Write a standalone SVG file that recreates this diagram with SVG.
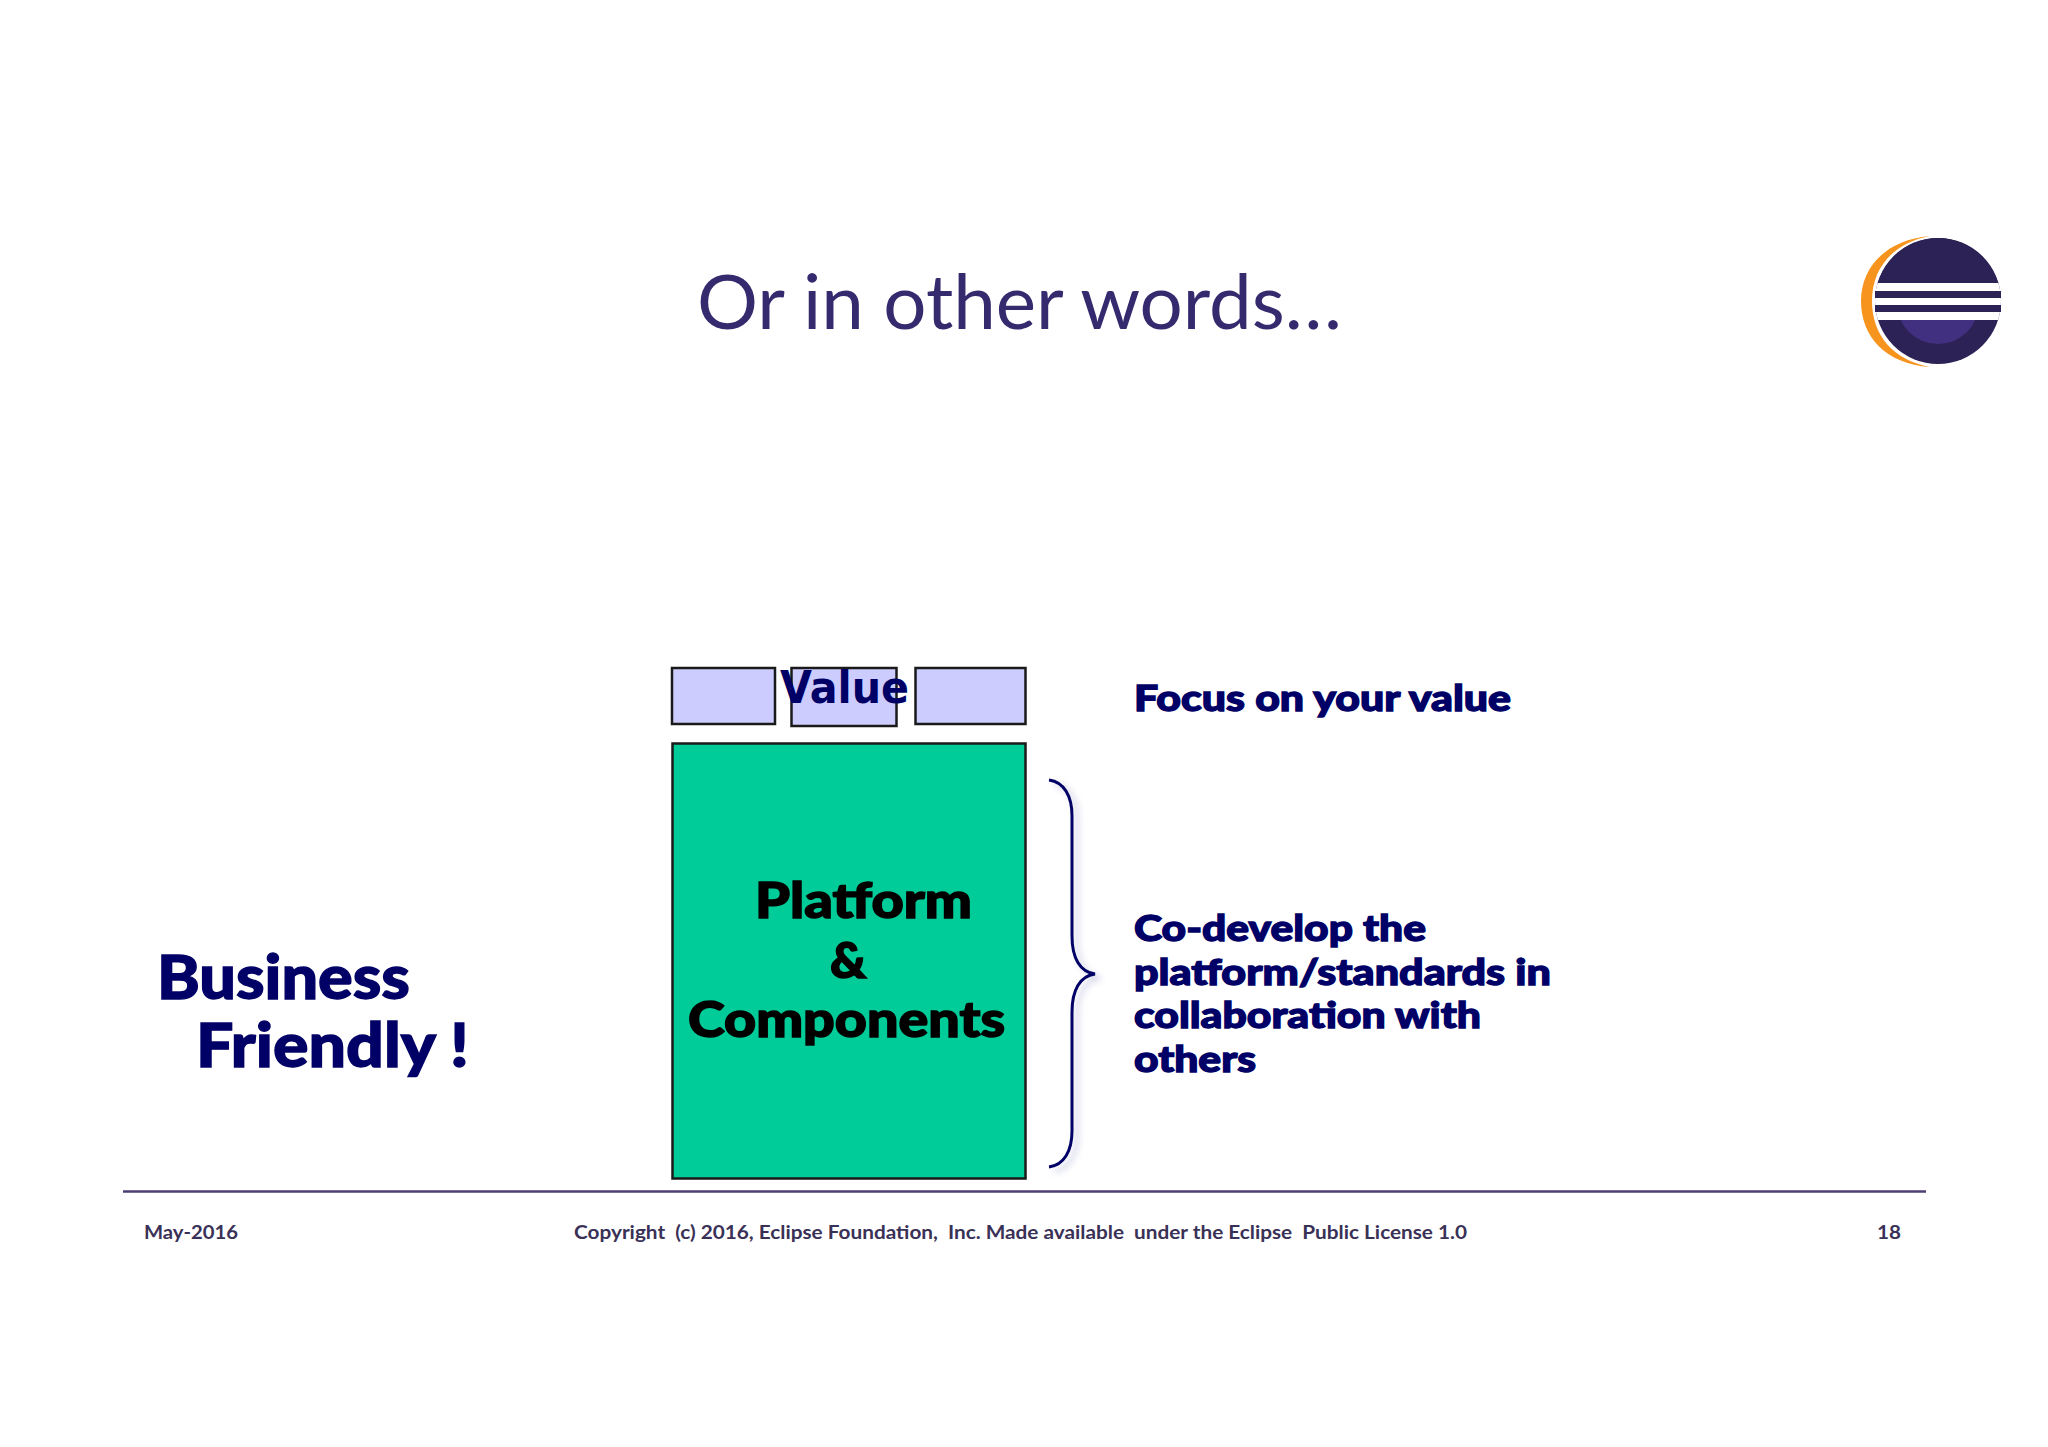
<svg xmlns="http://www.w3.org/2000/svg" width="2048" height="1447" viewBox="0 0 2048 1447">
<style>
.h{font-family:"Lato","Liberation Sans",sans-serif;font-weight:900;fill:#000066;stroke:#000066;stroke-width:1.3px}
.b{font-family:"Lato","Liberation Sans",sans-serif;font-weight:900;fill:#000000;stroke:#000000;stroke-width:1.5px;font-size:50px}
.s{font-size:36px}
.f{font-family:"Lato","Liberation Sans",sans-serif;font-weight:700;font-size:19px;fill:#3a3157;white-space:pre}
.box{fill:#ccccff;stroke:#1a1a1a;stroke-width:2.5}
</style>
<defs><filter id="sh" x="-50%" y="-5%" width="200%" height="110%"><feGaussianBlur stdDeviation="3"/></filter>
<clipPath id="disc"><circle cx="1938" cy="301" r="63"/></clipPath></defs>
<rect width="2048" height="1447" fill="#ffffff"/>
<text x="697" y="329" font-family="Lato,'Liberation Sans',sans-serif" font-size="76" fill="#352a6e" textLength="645" lengthAdjust="spacingAndGlyphs">Or in other words…</text>
<g id="logo">
<path d="M1930 236C1885 240 1861 268 1861 301C1861 336 1885 364 1930 367C1893 360 1872 335 1872 301C1872 268 1893 243 1930 236Z" fill="#f7941e"/>
<g clip-path="url(#disc)"><rect x="1870" y="230" width="140" height="140" fill="#2c2255"/>
<circle cx="1938" cy="303" r="41" fill="#40307f"/>
<rect x="1870" y="283" width="140" height="8" fill="#fff"/><rect x="1870" y="298" width="140" height="7" fill="#fff"/><rect x="1870" y="312" width="140" height="8" fill="#fff"/>
<rect x="1870" y="230" width="140" height="53" fill="#2c2255"/>
<rect x="1870" y="291" width="140" height="7" fill="#2c2255"/><rect x="1870" y="305" width="140" height="7" fill="#2c2255"/></g>
<rect x="1875" y="291" width="126" height="7" fill="#2c2255"/><rect x="1875" y="305" width="126" height="7" fill="#2c2255"/>
</g>
<g id="value-boxes">
<rect class="box" x="672" y="668" width="103" height="56"/>
<rect class="box" x="791.500" y="668" width="105" height="58"/>
<rect class="box" x="915.500" y="668" width="110" height="56"/>
<text x="780" y="703" font-family="'DejaVu Sans',sans-serif" font-weight="700" font-size="44" fill="#000066" textLength="129" lengthAdjust="spacingAndGlyphs">Value</text>
</g>
<g id="platform">
<rect x="672.500" y="743.500" width="353" height="435" fill="#00cc99" stroke="#1a1a1a" stroke-width="2.500"/>
<text class="b" x="755" y="918" textLength="217" lengthAdjust="spacingAndGlyphs">Platform</text>
<text class="b" x="830" y="978">&amp;</text>
<text class="b" x="688" y="1037" textLength="317" lengthAdjust="spacingAndGlyphs">Components</text>
</g>
<g id="connectors">
<path d="M1049 780C1064 782 1072 796 1072 816V936C1072 958 1080 972 1095 974C1080 976 1072 990 1072 1012V1131C1072 1151 1064 1165 1049 1167" fill="none" stroke="#bbbbdd" stroke-width="4" filter="url(#sh)" transform="translate(5 4)" opacity="0.6"/>
<path d="M1049 780C1064 782 1072 796 1072 816V936C1072 958 1080 972 1095 974C1080 976 1072 990 1072 1012V1131C1072 1151 1064 1165 1049 1167" fill="none" stroke="#000066" stroke-width="3"/>
</g>
<g id="labels">
<text class="h" x="157" y="999" font-size="60" textLength="253" lengthAdjust="spacingAndGlyphs">Business</text>
<text class="h" x="196" y="1067" font-size="60" textLength="273" lengthAdjust="spacingAndGlyphs">Friendly !</text>
<text class="h s" x="1134" y="711" textLength="377" lengthAdjust="spacingAndGlyphs">Focus on your value</text>
<text class="h s" x="1134" y="941" textLength="292" lengthAdjust="spacingAndGlyphs">Co-develop the</text>
<text class="h s" x="1134" y="985" textLength="417" lengthAdjust="spacingAndGlyphs">platform/standards in</text>
<text class="h s" x="1134" y="1028" textLength="347" lengthAdjust="spacingAndGlyphs">collaboration with</text>
<text class="h s" x="1134" y="1072" textLength="122" lengthAdjust="spacingAndGlyphs">others</text>
</g>
<g id="footer">
<line x1="123" y1="1191.500" x2="1926" y2="1191.500" stroke="#4d3f73" stroke-width="2.500"/>
<text class="f" x="144" y="1239" textLength="94" lengthAdjust="spacingAndGlyphs">May-2016</text>
<text class="f" x="574" y="1239" textLength="893" lengthAdjust="spacingAndGlyphs">Copyright  (c) 2016, Eclipse Foundation,  Inc. Made available  under the Eclipse  Public License 1.0</text>
<text class="f" x="1877" y="1239" textLength="24" lengthAdjust="spacingAndGlyphs">18</text>
</g>
</svg>
